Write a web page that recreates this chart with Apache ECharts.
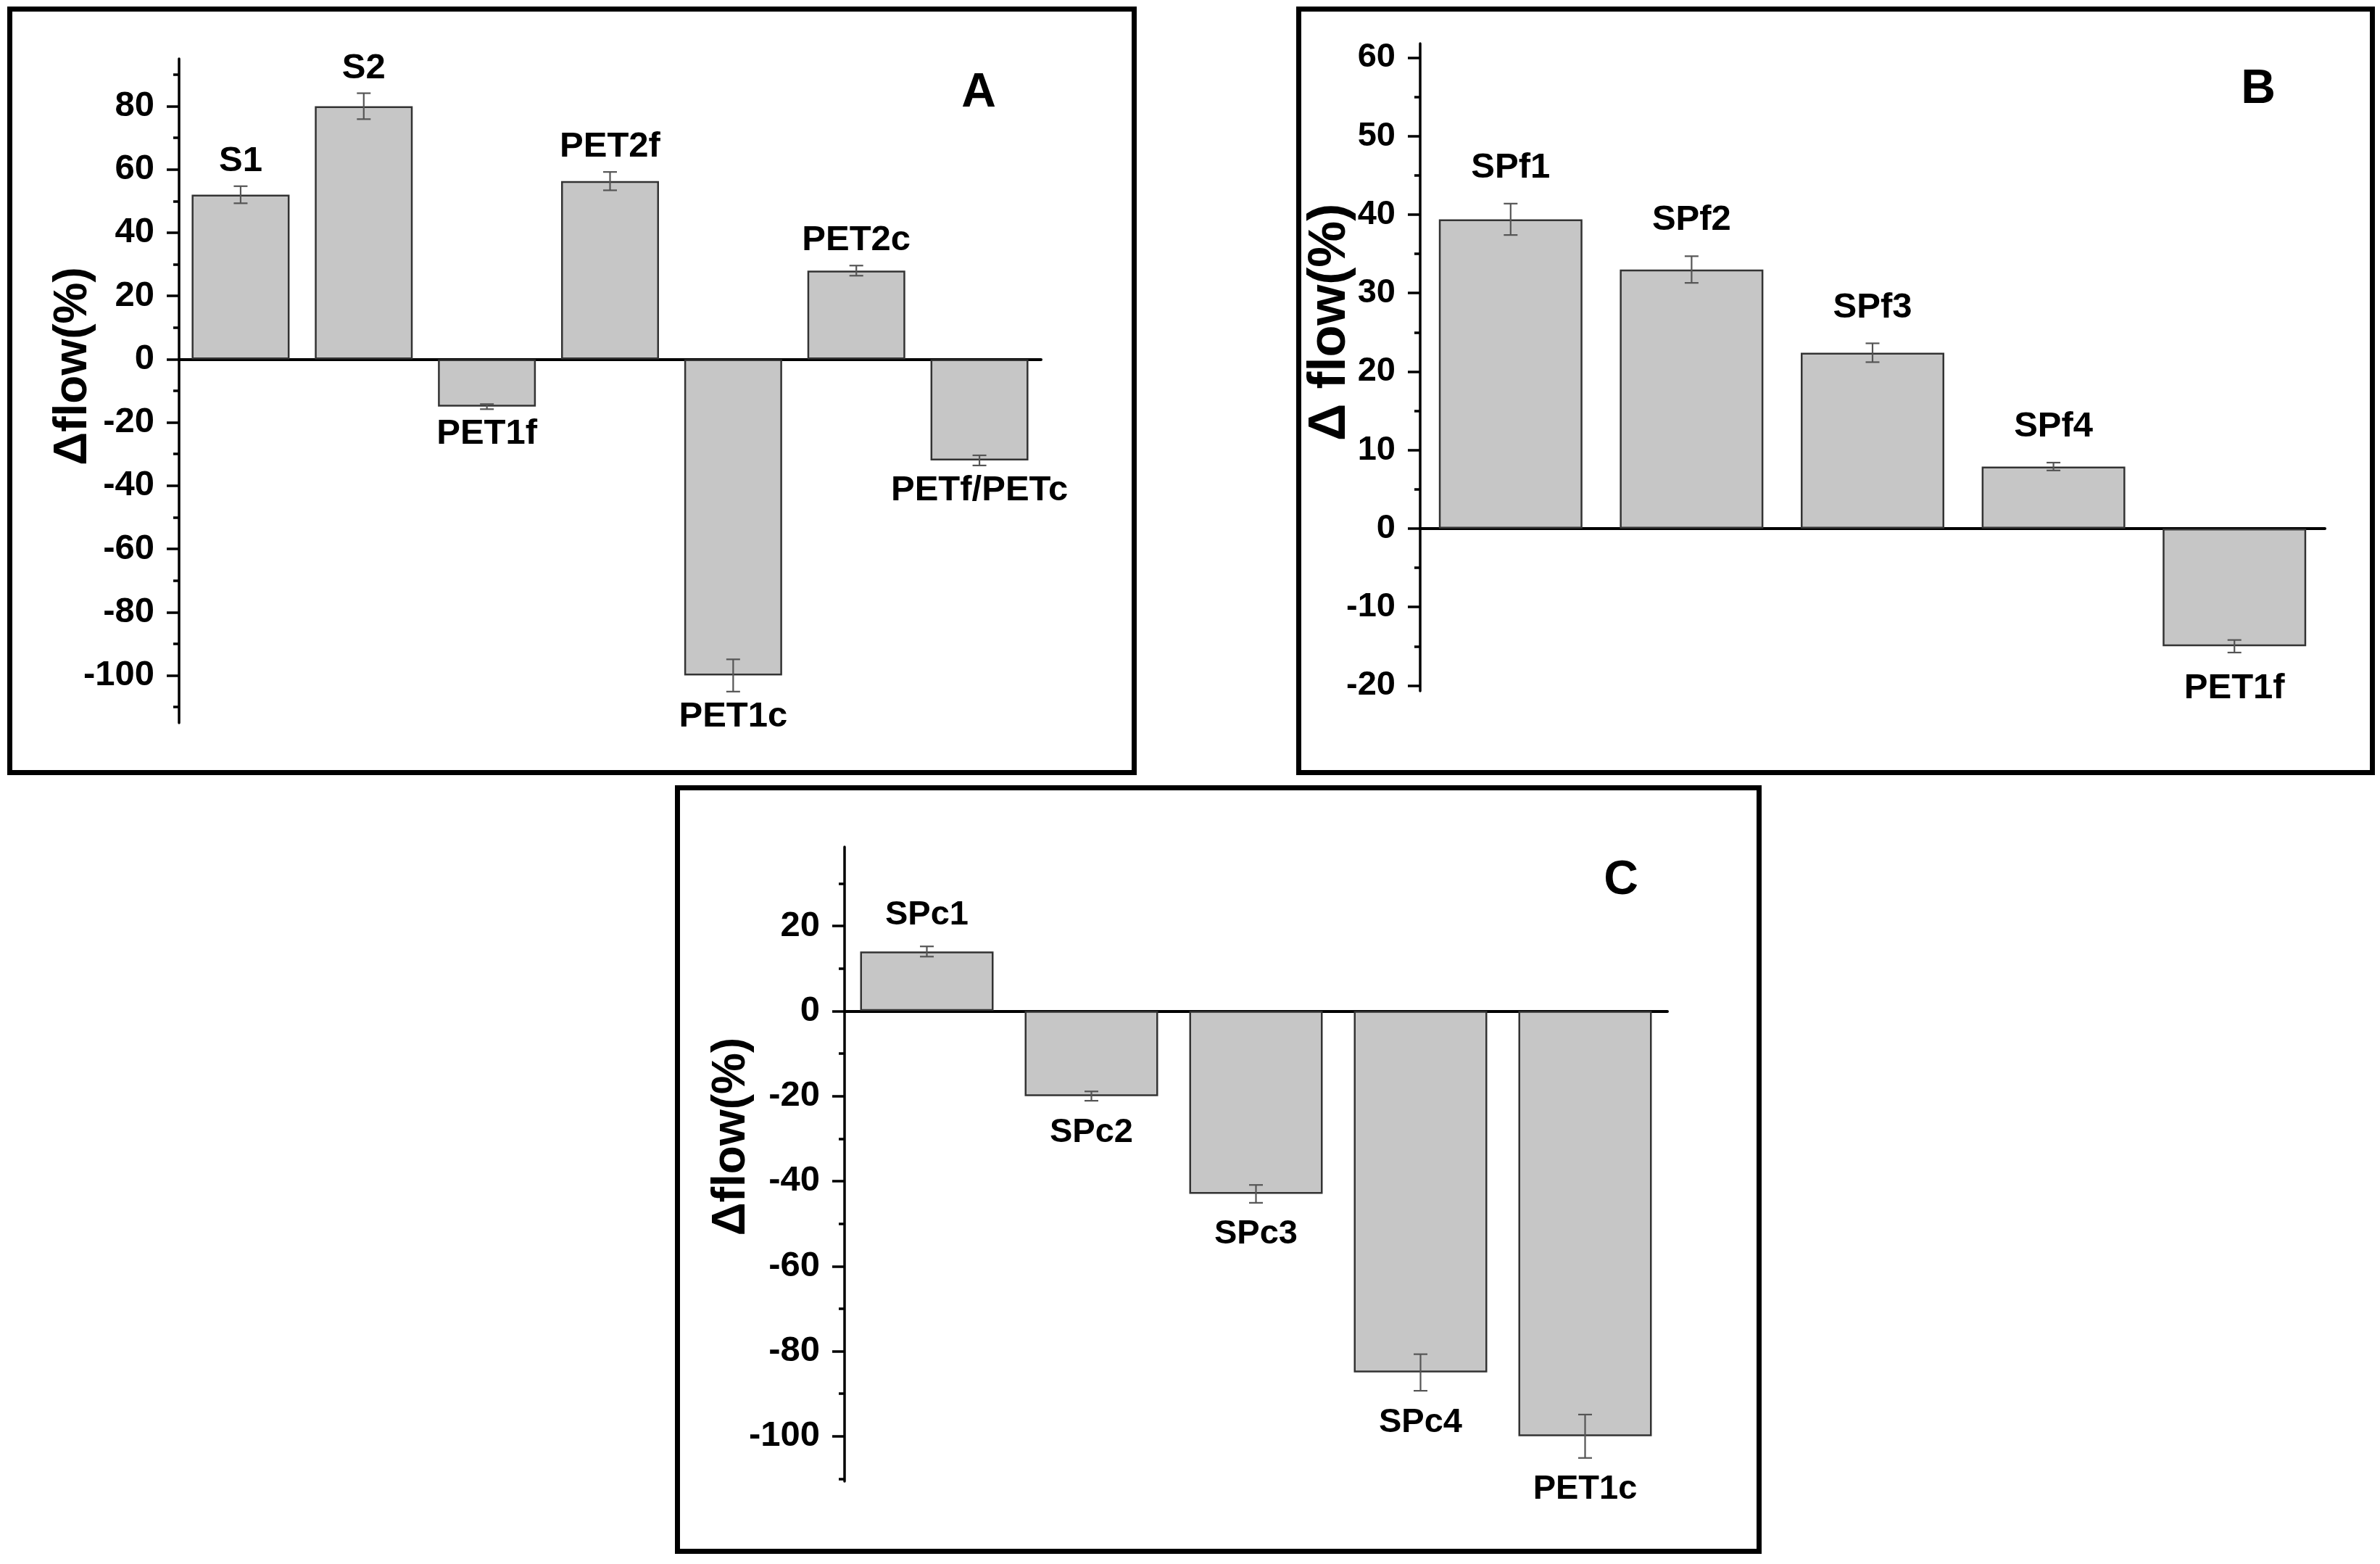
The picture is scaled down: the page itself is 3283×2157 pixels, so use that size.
<!DOCTYPE html>
<html>
<head>
<meta charset="utf-8">
<script src="https://cdn.jsdelivr.net/npm/echarts@6/dist/echarts.min.js"></script>
<style>html,body{margin:0;padding:0;background:#fff;}</style>
</head>
<body>
<div id="main" style="width:3283px;height:2157px;"></div>
<script>
// panel A
var catsA = ['S1', 'S2', 'PET1f', 'PET2f', 'PET1c', 'PET2c', 'PETf/PETc'];
var valsA = [52, 80, -15, 56.3, -100, 28, -32];
var errA = [2.7, 4.1, 0.8, 2.9, 5.1, 1.6, 1.6];
var majorA = [-100, -80, -60, -40, -20, 0, 20, 40, 60, 80];
var minorA = [-110, -90, -70, -50, -30, -10, 10, 30, 50, 70, 90];

// panel B
var catsB = ['SPf1', 'SPf2', 'SPf3', 'SPf4', 'PET1f'];
var valsB = [39.4, 33, 22.4, 7.9, -15];
var errB = [2.0, 1.7, 1.2, 0.5, 0.8];
var majorB = [-20, -10, 0, 10, 20, 30, 40, 50, 60];
var minorB = [-15, -5, 5, 15, 25, 35, 45, 55];

// panel C
var catsC = ['SPc1', 'SPc2', 'SPc3', 'SPc4', 'PET1c'];
var valsC = [14, -20, -43, -85, -100];
var errC = [1.2, 1.1, 2.1, 4.3, 5.1];
var majorC = [-100, -80, -60, -40, -20, 0, 20];
var minorC = [-110, -90, -70, -50, -30, -10, 10, 30];

var FONT = "'Liberation Sans', Arial, sans-serif";

var myChart = echarts.init(document.getElementById('main'));

var grids = [], xAxes = [], yAxes = [], series = [];

function addPanel(p) {
    var g = grids.length;
    grids.push({left: p.left, top: p.top, width: p.width, height: p.height});
    xAxes.push({
        type: 'category', gridIndex: g, data: p.cats,
        axisLine: {onZero: true, lineStyle: {color: '#000', width: 4}},
        axisTick: {show: false}, axisLabel: {show: false}, splitLine: {show: false}
    });
    // main axis: line, major ticks, labels, title
    yAxes.push({
        type: 'value', gridIndex: g, position: 'left', offset: 0, min: p.min, max: p.max,
        axisLine: {show: true, onZero: false, lineStyle: {color: '#000', width: 3.5}},
        axisTick: {show: true, length: 17, customValues: p.major, lineStyle: {color: '#000', width: 3.5}},
        axisLabel: {show: true, customValues: p.major, margin: 34, color: '#000',
            fontSize: p.tickSize, fontWeight: 'bold', fontFamily: FONT},
        splitLine: {show: false},
        name: p.name, nameLocation: 'middle', nameGap: p.nameGap, nameMoveOverlap: false,
        nameTextStyle: {color: '#000', fontSize: p.nameSize, fontWeight: 'bold', fontFamily: FONT,
            padding: [0, 0, 0, p.nameShift]}
    });
    var yMain = yAxes.length - 1;
    // second axis on the same side, only for the minor ticks
    yAxes.push({
        type: 'value', gridIndex: g, position: 'left', offset: 0, min: p.min, max: p.max,
        axisLine: {show: false},
        axisTick: {show: true, length: 8, customValues: p.minor, lineStyle: {color: '#000', width: 3.5}},
        axisLabel: {show: false}, splitLine: {show: false}
    });
    series.push({
        type: 'bar', xAxisIndex: g, yAxisIndex: yMain, data: p.vals, barWidth: p.barW, z: 2,
        itemStyle: {color: '#c6c6c6', borderColor: '#333', borderWidth: 2.5},
        silent: true
    });
    var errData = p.vals.map(function (v, i) { return [i, v, p.errs[i]]; });
    series.push({
        type: 'custom', xAxisIndex: g, yAxisIndex: yMain, data: errData, clip: false, silent: true, z: 5,
        encode: {x: 0, y: 1},
        renderItem: function (params, api) {
            var i = api.value(0), v = api.value(1), e = api.value(2);
            var hi = api.coord([i, v + e]);
            var lo = api.coord([i, v - e]);
            var cap = 9.5;
            var st = {stroke: '#555', lineWidth: 2.2};
            var up = v >= 0;
            return {
                type: 'group',
                children: [
                    {type: 'line', shape: {x1: hi[0], y1: hi[1], x2: lo[0], y2: lo[1]}, style: st},
                    {type: 'line', shape: {x1: hi[0] - cap, y1: hi[1], x2: hi[0] + cap, y2: hi[1]}, style: st},
                    {type: 'line', shape: {x1: lo[0] - cap, y1: lo[1], x2: lo[0] + cap, y2: lo[1]}, style: st},
                    {type: 'text', style: {
                        text: p.cats[params.dataIndex],
                        x: hi[0], y: up ? hi[1] - p.labelGap : lo[1] + p.labelGap,
                        align: 'center', verticalAlign: up ? 'bottom' : 'top',
                        fontSize: p.labelSize, fontWeight: 'bold', fontFamily: FONT, fill: '#000'
                    }}
                ]
            };
        }
    });
}

addPanel({cats: catsA, vals: valsA, errs: errA, major: majorA, minor: minorA, min: -115, max: 95,
    left: 247, top: 81, width: 1189, height: 916, barW: 135,
    name: 'Δflow(%)', nameSize: 64, nameGap: 114, nameShift: 68,
    tickSize: 49, labelSize: 49, labelGap: 10});
addPanel({cats: catsB, vals: valsB, errs: errB, major: majorB, minor: minorB, min: -20.7, max: 61.8,
    left: 1959, top: 60, width: 1248, height: 893, barW: 198,
    name: 'Δ flow(%)', nameSize: 72, nameGap: 88, nameShift: 124,
    tickSize: 47, labelSize: 49, labelGap: 25});
addPanel({cats: catsC, vals: valsC, errs: errC, major: majorC, minor: minorC, min: -110.6, max: 38.6,
    left: 1165, top: 1168, width: 1135, height: 875, barW: 184,
    name: 'Δflow(%)', nameSize: 64, nameGap: 124, nameShift: 76,
    tickSize: 49, labelSize: 47, labelGap: 20});

function frame(x, y, w, h) {
    return {type: 'rect', shape: {x: x, y: y, width: w, height: h},
        style: {fill: null, stroke: '#000', lineWidth: 7}, silent: true};
}
function letter(t, x, y) {
    return {type: 'text', style: {text: t, x: x, y: y, align: 'center', verticalAlign: 'middle',
        fontSize: 66, fontWeight: 'bold', fontFamily: FONT, fill: '#000'}, silent: true};
}

var option = {
    animation: false,
    backgroundColor: '#fff',
    grid: grids,
    xAxis: xAxes,
    yAxis: yAxes,
    series: series,
    graphic: [
        frame(13.5, 12.5, 1551, 1053),
        frame(1791.5, 12.5, 1481, 1053),
        frame(934.5, 1086.5, 1492, 1053),
        letter('A', 1350, 129),
        letter('B', 3115, 124),
        letter('C', 2236, 1215)
    ]
};
myChart.setOption(option);
</script>
</body>
</html>
